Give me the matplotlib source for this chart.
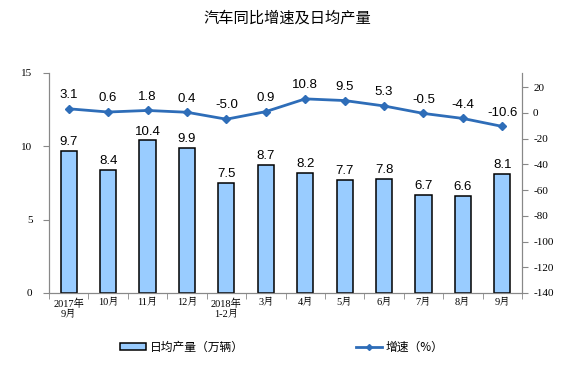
import matplotlib
matplotlib.use("Agg")
import matplotlib.pyplot as plt
from matplotlib.lines import Line2D
from matplotlib.patches import Patch

plt.rcParams["font.family"] = ["Noto Sans CJK SC", "DejaVu Sans"]
plt.rcParams["axes.unicode_minus"] = False

# --- Data ---
months = ["2017年\n9月", "10月", "11月", "12月", "2018年\n1-2月", "3月",
          "4月", "5月", "6月", "7月", "8月", "9月"]
daily_output = [9.7, 8.4, 10.4, 9.9, 7.5, 8.7, 8.2, 7.7, 7.8, 6.7, 6.6, 8.1]
growth = [3.1, 0.6, 1.8, 0.4, -5.0, 0.9, 10.8, 9.5, 5.3, -0.5, -4.4, -10.6]

BAR_COLOR = "#99CCFF"
LINE_COLOR = "#2E6DB8"
AXIS_COLOR = "#888888"
NUM_FONT = "Liberation Sans"
TICK_FONT = ["Liberation Serif", "Noto Serif CJK SC", "Noto Sans CJK SC"]

fig = plt.figure(figsize=(5.75, 3.69), dpi=100)
ax = fig.add_axes([49 / 575, 1 - 293 / 369, (522 - 49) / 575, (293 - 73) / 369])
ax2 = ax.twinx()

x = list(range(len(months)))
ax.bar(x, daily_output, width=0.41, color=BAR_COLOR, edgecolor="black",
       linewidth=1.1, zorder=2)
for xi, v in zip(x, daily_output):
    ax.text(xi, v + 0.2, f"{v:.1f}", ha="center", va="bottom",
            fontsize=9.5, family=NUM_FONT)

ax2.plot(x, growth, color=LINE_COLOR, linewidth=2, marker="D",
         markersize=4.5, zorder=3)
for xi, v in zip(x, growth):
    ax2.text(xi, v + 6, f"{v:.1f}", ha="center", va="bottom",
             fontsize=9.5, family=NUM_FONT)

ax.set_xlim(-0.5, len(months) - 0.5)
ax.set_ylim(0, 15)
ax.set_yticks([0, 5, 10, 15])
ax2.set_ylim(-140, 30.9)
ax2.set_yticks(range(-140, 21, 20))

ax.set_xticks(x)
ax.set_xticklabels(months, fontsize=7.5, family=TICK_FONT)
ax.set_xticks([i + 0.5 for i in range(-1, len(months))], minor=True)
ax.tick_params(axis="x", which="major", length=0, pad=4)
ax.tick_params(axis="x", which="minor", length=4, color=AXIS_COLOR)
ax.tick_params(axis="y", length=4, color=AXIS_COLOR, labelsize=8, pad=8)
ax2.tick_params(axis="y", length=4, color=AXIS_COLOR, labelsize=8, pad=4)
for lab in ax.get_yticklabels() + ax2.get_yticklabels():
    lab.set_family(TICK_FONT)

for a in (ax, ax2):
    a.spines["top"].set_visible(False)
    for s in ("left", "right", "bottom"):
        a.spines[s].set_color(AXIS_COLOR)

fig.text(0.5, 1 - 18 / 369, "汽车同比增速及日均产量", ha="center", va="center",
         fontsize=11)

handles = [
    Patch(facecolor=BAR_COLOR, edgecolor="black", linewidth=1.1),
    Line2D([0], [0], color=LINE_COLOR, linewidth=2, marker="D", markersize=3),
]
fig.legend(handles, ["日均产量（万辆）", "增速（%）"], loc="center",
           bbox_to_anchor=(0.49, 1 - 347 / 369), ncol=2, frameon=False,
           fontsize=8.5, handlelength=2.2, handleheight=0.6,
           handletextpad=0.3, columnspacing=9.5)

fig.savefig("out.png", dpi=100)
